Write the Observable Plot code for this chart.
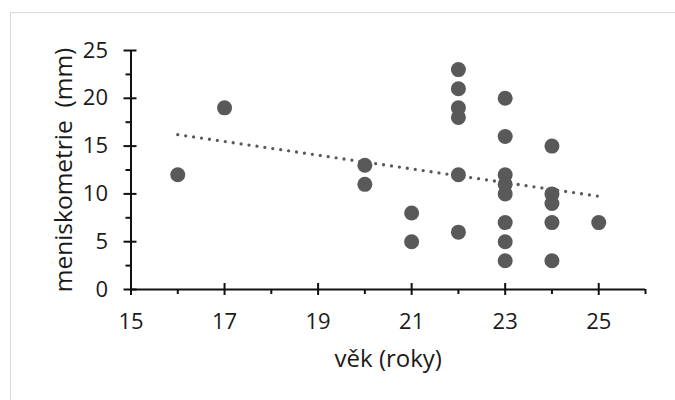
<!DOCTYPE html>
<html>
<head>
<meta charset="utf-8">
<script src="https://cdn.jsdelivr.net/npm/d3@7"></script>
<script src="https://cdn.jsdelivr.net/npm/@observablehq/plot@0.6"></script>
<style>
  html, body { margin: 0; padding: 0; background: #fff; overflow: hidden; }
  #wrap { position: relative; width: 675px; height: 400px; overflow: hidden; }
  #chart svg { display: block; }
  #border { position: absolute; left: 10px; top: 12px; width: 800px; height: 600px;
            border-left: 1.5px solid #d9d9d9; border-top: 1.5px solid #d9d9d9; pointer-events: none; }
</style>
</head>
<body>
<div id="wrap">
  <div id="chart"></div>
  <div id="border"></div>
</div>
<script>
// Data
const age = [16, 17, 20, 20, 21, 21, 22, 22, 22, 22, 22, 22, 23, 23, 23, 23, 23, 23, 23, 23, 24, 24, 24, 24, 24, 25];
const menisk = [12, 19, 13, 11, 8, 5, 23, 21, 19, 18, 12, 6, 20, 16, 12, 11, 10, 7, 5, 3, 15, 10, 9, 7, 3, 7];
// Linear trendline (ends)
const trendX = [16, 25];
const trendY = [16.2, 9.75];
const xTicks = [15, 17, 19, 21, 23, 25];
const xMinor = [16, 18, 20, 22, 24, 26];
const yTicks = [0, 5, 10, 15, 20, 25];
const yMinor = [2.5, 7.5, 12.5, 17.5, 22.5];
const xTitle = "věk (roky)";
const yTitle = "meniskometrie  (mm)";

const points = age.map((a, i) => ({x: a, y: menisk[i]}));
const trend = trendX.map((x, i) => ({x, y: trendY[i]}));

const font = "'Open Sans', sans-serif";
const grey = "#595959";
const axisCol = "#111";
const textCol = "#1a1a1a";

const chart = Plot.plot({
  width: 675,
  height: 400,
  marginLeft: 130.5,
  marginRight: 30,
  marginTop: 50,
  marginBottom: 111,
  style: {fontFamily: font, background: "#fff"},
  x: {domain: [15, 26], axis: null},
  y: {domain: [0, 25], axis: null},
  marks: [
    // axis lines
    Plot.ruleY([0], {x1: 15, x2: 26, stroke: axisCol, strokeWidth: 2}),
    Plot.ruleX([15], {y1: 0, y2: 25, stroke: axisCol, strokeWidth: 2}),
    // x major ticks (cross)
    Plot.ruleX(xTicks, {x: d => d, y1: 0, y2: 0, insetTop: -6, insetBottom: -6, stroke: axisCol, strokeWidth: 2}),
    // x minor ticks (outside)
    Plot.ruleX(xMinor, {x: d => d, y1: 0, y2: 0, insetTop: 0, insetBottom: -5, stroke: axisCol, strokeWidth: 2}),
    // y major ticks (cross)
    Plot.ruleY(yTicks, {y: d => d, x1: 15, x2: 15, insetLeft: -7, insetRight: -6, stroke: axisCol, strokeWidth: 2}),
    // y minor ticks (outside)
    Plot.ruleY(yMinor, {y: d => d, x1: 15, x2: 15, insetLeft: -5, insetRight: 0, stroke: axisCol, strokeWidth: 2}),
    // tick labels
    Plot.text(xTicks, {x: d => d, y: 0, text: d => String(d), dy: 32, fontSize: 22, fill: textCol, lineAnchor: "middle"}),
    Plot.text(yTicks, {x: 15, y: d => d, text: d => String(d), dx: -23, textAnchor: "end", fontSize: 22, fill: textCol, lineAnchor: "middle"}),
    // axis titles
    Plot.text([xTitle], {x: 20.5, y: 0, text: d => d, dy: 70, fontSize: 24, fill: textCol, lineAnchor: "middle"}),
    Plot.text([yTitle], {x: 15, y: 12.5, text: d => d, dx: -67, rotate: -90, fontSize: 24.5, fill: textCol, lineAnchor: "middle"}),
    // trendline (dotted)
    Plot.line(trend, {x: "x", y: "y", stroke: grey, strokeWidth: 3.3, strokeDasharray: "0 8", strokeLinecap: "round"}),
    // points
    Plot.dot(points, {x: "x", y: "y", r: 7.5, fill: grey, stroke: "none"})
  ]
});
document.getElementById("chart").appendChild(chart);
</script>
</body>
</html>
